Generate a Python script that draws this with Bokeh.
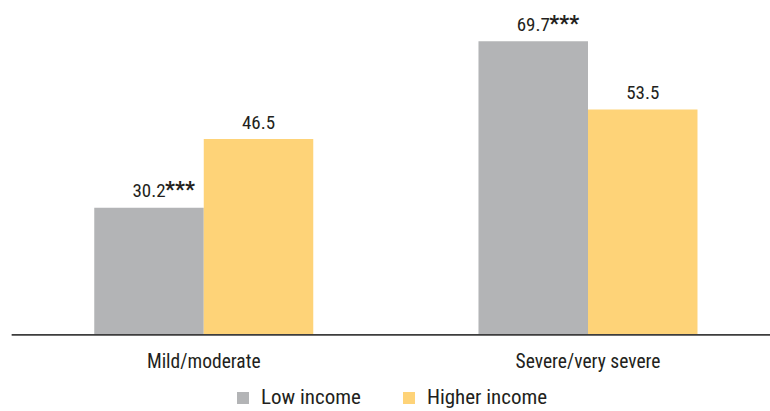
from bokeh.plotting import figure
from bokeh.models import ColumnDataSource, Range1d, Legend, LegendItem
from bokeh.core.properties import value
from bokeh.embed import file_html
from bokeh.resources import INLINE

# Share of respondents by symptom severity and income group
categories = ["Mild/moderate", "Severe/very severe"]
low_income = [30.2, 69.7]
higher_income = [46.5, 53.5]
low_income_sig = ["***", "***"]
series_names = ["Low income", "Higher income"]

GRAY = "#b3b4b6"
YELLOW = "#fed378"
INK = "#231f20"
FONT = "Roboto Condensed"

BAR_W = 0.285
xs = list(range(len(categories)))
low_x = [x - BAR_W / 2 for x in xs]
high_x = [x + BAR_W / 2 for x in xs]

low_src = ColumnDataSource(dict(x=low_x, top=low_income,
                                label=[f"{v:.1f}" for v in low_income],
                                sig=low_income_sig))
high_src = ColumnDataSource(dict(x=high_x, top=higher_income,
                                 label=[f"{v:.1f}" for v in higher_income]))
cat_src = ColumnDataSource(dict(x=xs, y=[0] * len(xs), name=categories))

p = figure(width=770, height=411, output_backend="svg", toolbar_location=None,
           x_range=Range1d(-0.529, 1.475), y_range=Range1d(-18.2, 79.4),
           min_border=0, min_border_left=0, min_border_right=0,
           min_border_top=0, min_border_bottom=0)
p.axis.visible = False
p.grid.visible = False
p.outline_line_color = None
p.background_fill_color = "white"
p.border_fill_color = "white"

low_r = p.vbar(x="x", top="top", width=BAR_W, bottom=0, source=low_src,
               fill_color=GRAY, line_color=None)
high_r = p.vbar(x="x", top="top", width=BAR_W, bottom=0, source=high_src,
                fill_color=YELLOW, line_color=None)

# baseline running from half a category before the first group to the right edge
p.segment(x0=[xs[0] - 0.5], y0=[0], x1=[p.x_range.end], y1=[0],
          line_color="#3d3d3d", line_width=1.6)

# value labels above bars
for src in (low_src, high_src):
    p.text(x="x", y="top", text="label", source=src, text_align="center",
           text_baseline="alphabetic", y_offset=-17, text_font=value(FONT),
           text_font_size="19px", text_color=INK)

# significance markers after the low-income values
p.text(x="x", y="top", text="sig", source=low_src, text_align="left",
       text_baseline="alphabetic", x_offset=16, y_offset=-18,
       text_font=value(FONT), text_font_style="bold",
       text_font_size="22px", text_color=INK)

# category labels under the baseline
p.text(x="x", y="y", text="name", source=cat_src, text_align="center",
       text_baseline="alphabetic", y_offset=27, text_font=value(FONT),
       text_font_size="19.5px", text_color=INK)

legend = Legend(items=[LegendItem(label=series_names[0], renderers=[low_r]),
                       LegendItem(label=series_names[1], renderers=[high_r])],
                orientation="horizontal", location=(235, 2),
                glyph_width=15, glyph_height=15, label_standoff=11, spacing=40,
                padding=0, margin=0, border_line_color=None,
                background_fill_alpha=0, label_text_font=FONT,
                label_text_font_size="21px", label_text_color=INK,
                label_height=20)
p.add_layout(legend, "center")

open("out.html", "w").write(file_html(p, INLINE))
